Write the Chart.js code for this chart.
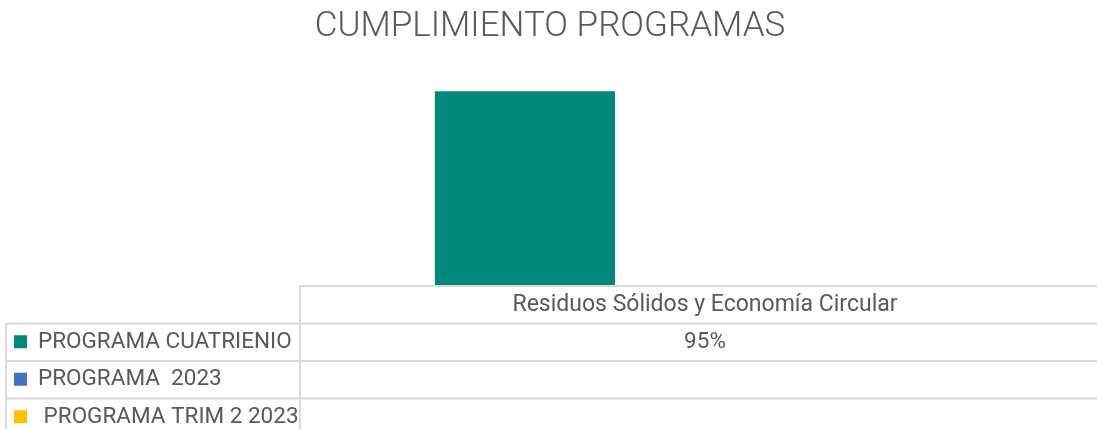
<!DOCTYPE html>
<html>
<head>
<meta charset="utf-8">
<title>Cumplimiento programas</title>
<script src="https://cdn.jsdelivr.net/npm/chart.js@4/dist/chart.umd.min.js"></script>
<style>
    html, body { margin: 0; padding: 0; background: #fff; }
    #wrap { width: 1097px; height: 429px; overflow: hidden; position: relative; }
    #chart { display: block; }
</style>
</head>
<body>
<div id="wrap"><canvas id="chart" width="1110" height="429"></canvas></div>
<script>
// datos
const chartTitle = 'CUMPLIMIENTO PROGRAMAS';
const categories = ['Residuos Sólidos y Economía Circular'];
const seriesNames = ['PROGRAMA CUATRIENIO', 'PROGRAMA  2023', ' PROGRAMA TRIM 2 2023'];
const programaCuatrienio = [0.95];
const programa2023 = [null];
const programaTrim2 = [null];

const colores = ['#00887A', '#4472C4', '#FFC000'];
const gris = '#595959';
const linea = '#D9D9D9';

const fmtPct = v => (v === null || v === undefined) ? '' : Math.round(v * 100) + '%';

// tabla de datos + titulo
const tablaPlugin = {
    id: 'tabla',
    afterDraw(chart) {
        const ctx = chart.ctx;
        const area = chart.chartArea;
        const xScale = chart.scales.x;
        const right = chart.width;
        const top = area.bottom + 1;
        const rowH = 37.5;
        const labelLeft = 6;

        ctx.save();

        // titulo
        ctx.fillStyle = gris;
        ctx.font = '300 35px Roboto';
        ctx.textAlign = 'center';
        ctx.textBaseline = 'middle';
        ctx.fillText(chartTitle, 550, 27);

        // lineas
        ctx.strokeStyle = linea;
        ctx.lineWidth = 2;
        ctx.beginPath();
        ctx.moveTo(area.left, top);
        ctx.lineTo(right, top);
        ctx.moveTo(area.left, top);
        ctx.lineTo(area.left, chart.height);
        for (let r = 1; r <= chart.data.datasets.length + 1; r++) {
            const y = top + r * rowH;
            ctx.moveTo(labelLeft, y);
            ctx.lineTo(right, y);
        }
        ctx.moveTo(labelLeft, top + rowH);
        ctx.lineTo(labelLeft, chart.height);
        ctx.stroke();

        // cabecera de categorias
        ctx.fillStyle = gris;
        ctx.font = '23px Roboto';
        ctx.textAlign = 'center';
        chart.data.labels.forEach((lab, i) => {
            ctx.fillText(lab, xScale.getPixelForValue(i), top + rowH / 2);
        });

        // filas por serie
        chart.data.datasets.forEach((ds, d) => {
            const cy = top + rowH * (d + 1) + rowH / 2;
            ctx.fillStyle = ds.backgroundColor;
            ctx.fillRect(14, cy - 7, 13, 13);
            ctx.fillStyle = gris;
            ctx.textAlign = 'left';
            ctx.font = '22.5px Roboto';
            ctx.fillText(ds.label, 38, cy);
            ctx.textAlign = 'center';
            ds.data.forEach((v, i) => {
                ctx.fillText(fmtPct(v), xScale.getPixelForValue(i), cy);
            });
        });

        ctx.restore();
    }
};

const series = [programaCuatrienio, programa2023, programaTrim2];

new Chart(document.getElementById('chart'), {
    type: 'bar',
    data: {
        labels: categories,
        datasets: series.map((vals, i) => ({
            label: seriesNames[i],
            data: vals,
            backgroundColor: colores[i],
            borderWidth: 0,
            barPercentage: 1,
            categoryPercentage: 0.667
        }))
    },
    options: {
        responsive: false,
        animation: false,
        devicePixelRatio: 1,
        layout: { padding: { left: 300, top: 81, right: 0, bottom: 144 } },
        plugins: {
            legend: { display: false },
            title: { display: false },
            tooltip: { enabled: false }
        },
        scales: {
            x: { display: false, grid: { display: false } },
            y: { display: false, min: 0, max: 1 }
        }
    },
    plugins: [tablaPlugin]
});
</script>
</body>
</html>
